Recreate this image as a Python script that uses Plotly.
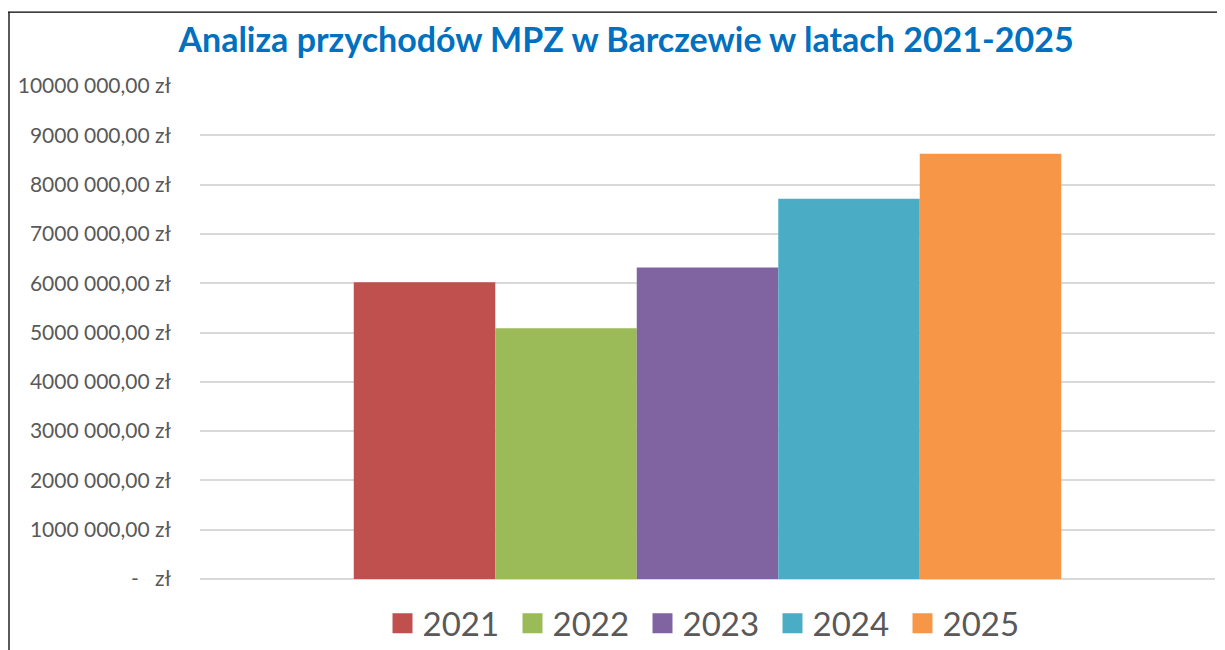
import plotly.graph_objects as go

years = ["2021", "2022", "2023", "2024", "2025"]
values = [6020000, 5085000, 6320000, 7715000, 8625000]
colors = ["#C0504D", "#9BBB59", "#8064A2", "#4BACC6", "#F79646"]
tick_vals = [0, 1e6, 2e6, 3e6, 4e6, 5e6, 6e6, 7e6, 8e6, 9e6, 10e6]
tick_text = ["-\u00a0\u00a0\u00a0zł", "1000 000,00 zł", "2000 000,00 zł", "3000 000,00 zł",
             "4000 000,00 zł", "5000 000,00 zł", "6000 000,00 zł", "7000 000,00 zł",
             "8000 000,00 zł", "9000 000,00 zł", "10000 000,00 zł"]
category = ["Przychody"]

fig = go.Figure()
for yr, val, col in zip(years, values, colors):
    fig.add_trace(go.Bar(x=category, y=[val], name=yr, marker=dict(color=col, line=dict(width=0)),
                         showlegend=False))
for yr, col in zip(years, colors):
    fig.add_trace(go.Scatter(x=[None], y=[None], mode="markers", name=yr,
                             marker=dict(symbol="square", size=16, color=col,
                                         line=dict(color=col, width=4))))

# page body has an 8px margin; work in screen pixels and shift
OFF = 8
W, H = 1225 - OFF, 650 - OFF
PL_L, PL_R, PL_T, PL_B = 200 - OFF, 1215 - OFF, 85.5 - OFF, 579.5 - OFF
pw, ph = PL_R - PL_L, PL_B - PL_T

def px_x(x):
    return (x - OFF - PL_L) / pw

def px_y(y):
    return (PL_B - (y - OFF)) / ph

fig.update_layout(
    width=W, height=H,
    margin=dict(l=PL_L, r=W - PL_R, t=PL_T, b=H - PL_B, autoexpand=False),
    paper_bgcolor="white", plot_bgcolor="white",
    barmode="group", bargap=0.303, bargroupgap=0,
    font=dict(family="Lato, Open Sans, sans-serif", color="#595959"),
    title=dict(text="<b>Analiza przychodów MPZ w Barczewie w latach 2021-2025</b>",
               font=dict(family="Lato, Open Sans, sans-serif", size=34, color="#0070C0"),
               x=(626 - OFF) / W, xanchor="center", y=1 - (40 - OFF) / H, yanchor="middle"),
    xaxis=dict(showticklabels=False, showgrid=False, zeroline=False, showline=False, ticks=""),
    yaxis=dict(range=[0, 10e6], tickvals=tick_vals, ticktext=tick_text,
               tickfont=dict(size=21, color="#595959"),
               showgrid=True, gridcolor="#D9D9D9", gridwidth=1.5,
               zeroline=True, zerolinecolor="#D9D9D9", zerolinewidth=1.5,
               showline=False, ticks="", ticklabelstandoff=28),
    legend=dict(orientation="h", x=0.5, xanchor="center", y=px_y(624), yanchor="middle",
                font=dict(size=33, color="#595959"), itemclick=False, traceorder="normal",
                entrywidth=85, entrywidthmode="pixels",
                bgcolor="rgba(0,0,0,0)"),
    shapes=[
        dict(type="line", xref="paper", yref="paper", x0=px_x(9), x1=px_x(9), y0=px_y(11.5), y1=px_y(660),
             line=dict(color="#595959", width=2)),
        dict(type="line", xref="paper", yref="paper", x0=px_x(8), x1=px_x(1240), y0=px_y(11.5), y1=px_y(11.5),
             line=dict(color="#000000", width=1.2)),
    ],
)

fig.write_html("out.html")
